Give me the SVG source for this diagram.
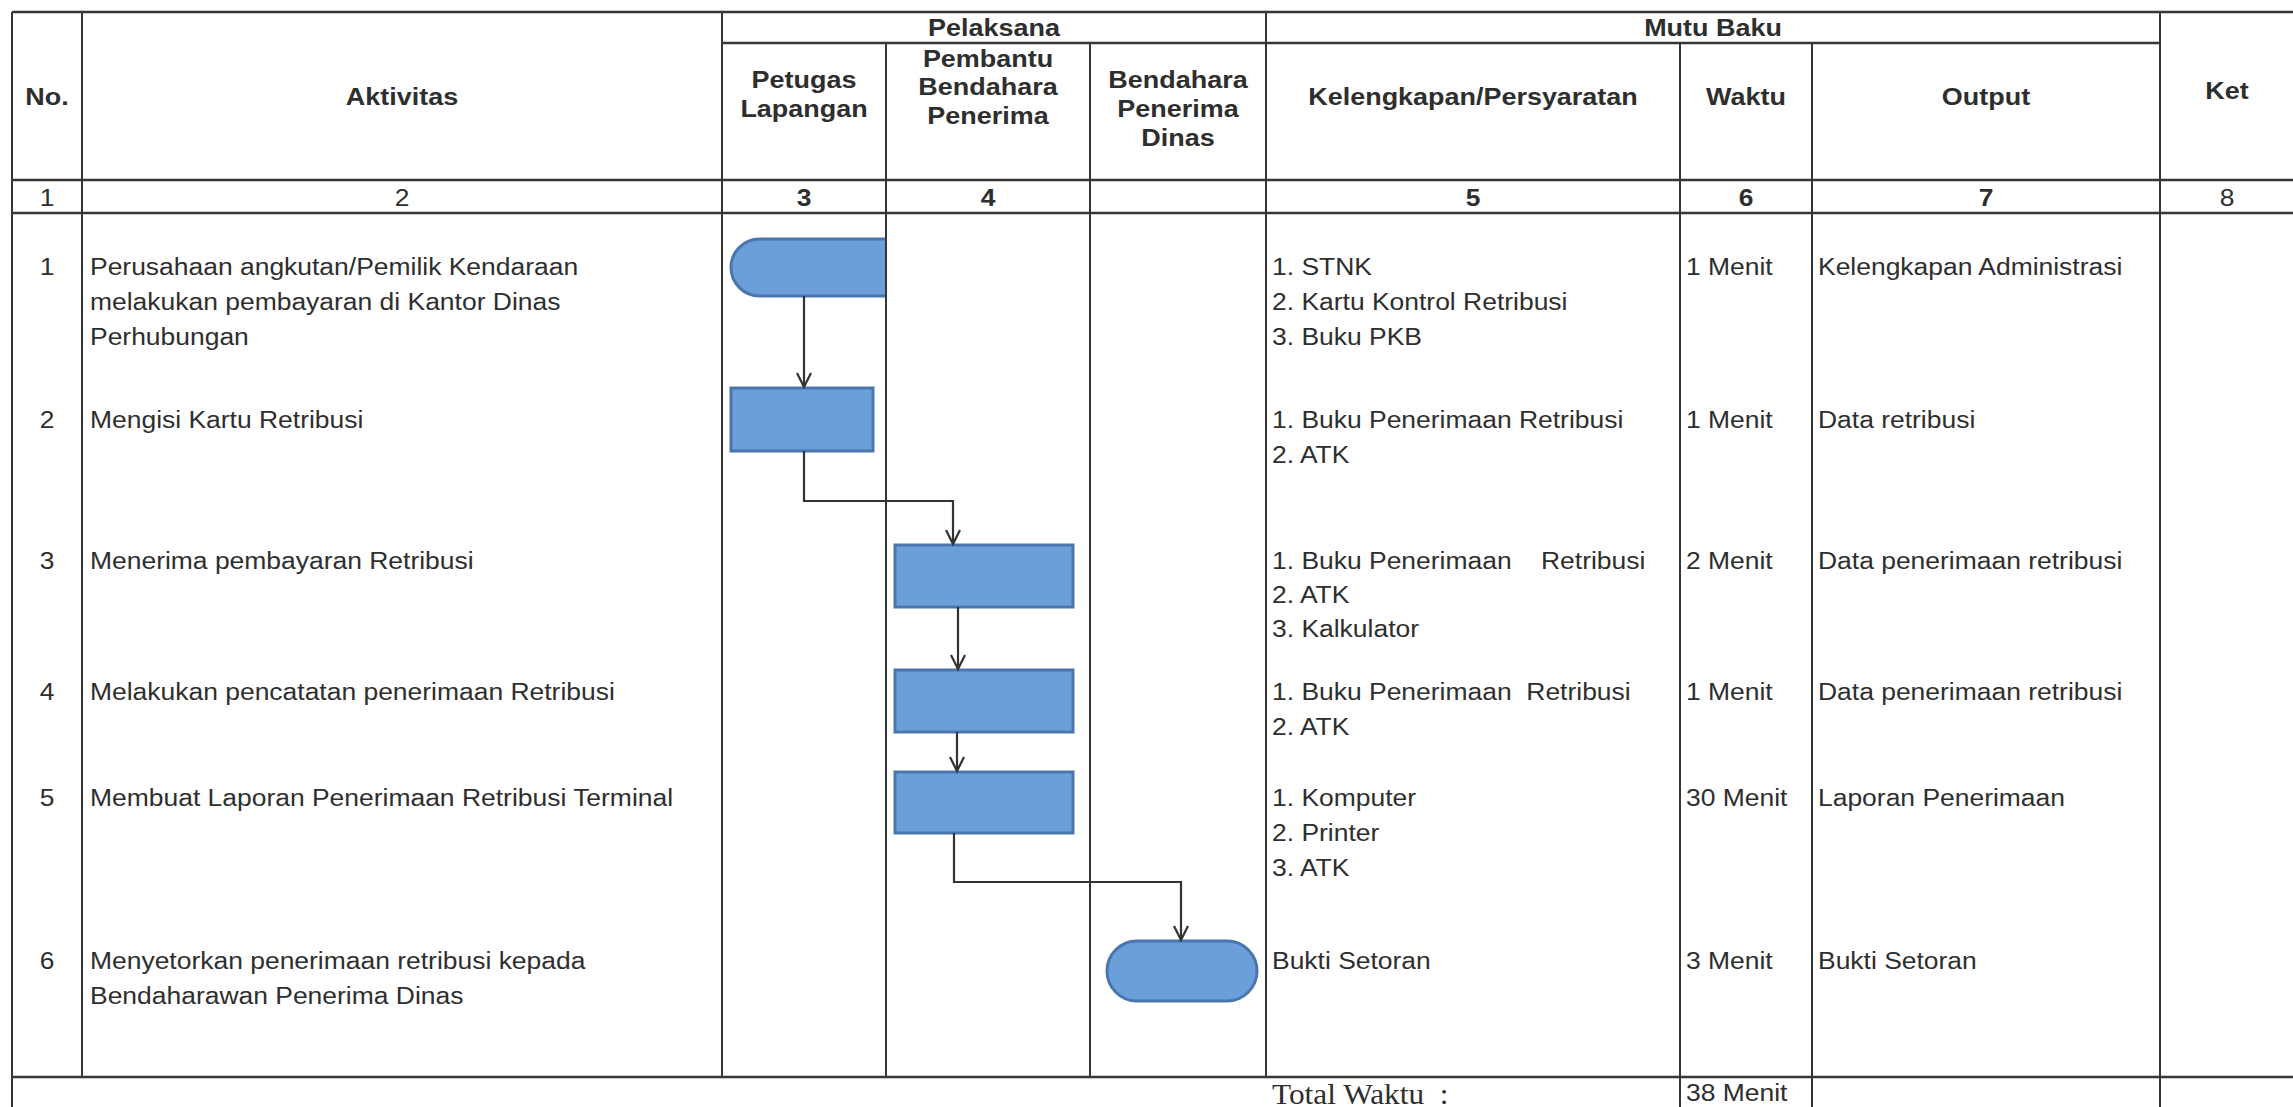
<svg xmlns="http://www.w3.org/2000/svg" width="2293" height="1107" viewBox="0 0 2293 1107">
  <style>
    .grid line { stroke: #363636; }
    .h { stroke-width: 2.6; }
    .v { stroke-width: 2; }
    text { font-family: "Liberation Sans", Arial, sans-serif; fill: #2e2e2e; }
    .hd { font-size: 24.5px; font-weight: bold; text-anchor: middle; }
    .num { font-size: 24px; text-anchor: middle; }
    .numb { font-size: 24px; font-weight: bold; text-anchor: middle; }
    .tx { font-size: 24.5px; }
    .serif { font-family: "Liberation Serif", "Times New Roman", serif; font-size: 29px; }
    .shape { fill: #6a9fd9; stroke: #4a76ad; stroke-width: 3; }
    .conn path { fill: none; stroke: #333333; stroke-width: 2.2; }
  </style>
  <defs>
    <marker id="arrow" markerUnits="userSpaceOnUse" markerWidth="20" markerHeight="20" refX="15" refY="8" orient="auto">
      <path d="M1,1 L15,8 L1,15" fill="none" stroke="#333333" stroke-width="2.2"/>
    </marker>
    <clipPath id="lane-petugas">
      <rect x="722" y="200" width="163" height="150"/>
    </clipPath>
  </defs>

  <rect x="0" y="0" width="2293" height="1107" fill="#ffffff"/>

  <!-- table grid -->
  <g id="grid" class="grid">
    <line class="h" x1="12" y1="12" x2="2293" y2="12"/>
    <line class="h" x1="722" y1="43" x2="2160" y2="43"/>
    <line class="h" x1="12" y1="180" x2="2293" y2="180"/>
    <line class="h" x1="12" y1="213" x2="2293" y2="213"/>
    <line class="h" x1="12" y1="1077" x2="2293" y2="1077"/>
    <line class="v" x1="12" y1="12" x2="12" y2="1107"/>
    <line class="v" x1="82" y1="12" x2="82" y2="1077"/>
    <line class="v" x1="722" y1="12" x2="722" y2="1077"/>
    <line class="v" x1="886" y1="43" x2="886" y2="1077"/>
    <line class="v" x1="1090" y1="43" x2="1090" y2="1077"/>
    <line class="v" x1="1266" y1="12" x2="1266" y2="1077"/>
    <line class="v" x1="1680" y1="43" x2="1680" y2="1107"/>
    <line class="v" x1="1812" y1="43" x2="1812" y2="1107"/>
    <line class="v" x1="2160" y1="12" x2="2160" y2="1107"/>
  </g>

  <!-- column headers -->
  <g id="headers">
    <text class="hd" transform="translate(994 36) scale(1.1 1)">Pelaksana</text>
    <text class="hd" transform="translate(1713 36) scale(1.1 1)">Mutu Baku</text>
    <text class="hd" transform="translate(47 105) scale(1.1 1)">No.</text>
    <text class="hd" transform="translate(402 105) scale(1.1 1)">Aktivitas</text>
    <text class="hd" transform="translate(804 88) scale(1.1 1)"><tspan x="0">Petugas</tspan><tspan x="0" dy="29">Lapangan</tspan></text>
    <text class="hd" transform="translate(988 67) scale(1.1 1)"><tspan x="0">Pembantu</tspan><tspan x="0" dy="28.5">Bendahara</tspan><tspan x="0" dy="28.5">Penerima</tspan></text>
    <text class="hd" transform="translate(1178 88) scale(1.1 1)"><tspan x="0">Bendahara</tspan><tspan x="0" dy="29">Penerima</tspan><tspan x="0" dy="29">Dinas</tspan></text>
    <text class="hd" transform="translate(1473 105) scale(1.1 1)">Kelengkapan/Persyaratan</text>
    <text class="hd" transform="translate(1746 105) scale(1.1 1)">Waktu</text>
    <text class="hd" transform="translate(1986 105) scale(1.1 1)">Output</text>
    <text class="hd" transform="translate(2227 99) scale(1.1 1)">Ket</text>
  </g>

  <!-- column numbers -->
  <g id="column-numbers">
    <text class="num" transform="translate(47 206) scale(1.1 1)">1</text>
    <text class="num" transform="translate(402 206) scale(1.1 1)">2</text>
    <text class="numb" transform="translate(804 206) scale(1.1 1)">3</text>
    <text class="numb" transform="translate(988 206) scale(1.1 1)">4</text>
    <text class="numb" transform="translate(1473 206) scale(1.1 1)">5</text>
    <text class="numb" transform="translate(1746 206) scale(1.1 1)">6</text>
    <text class="numb" transform="translate(1986 206) scale(1.1 1)">7</text>
    <text class="num" transform="translate(2227 206) scale(1.1 1)">8</text>
  </g>

  <!-- activity rows -->
  <g id="row-1">
    <text class="num" transform="translate(47 275) scale(1.1 1)">1</text>
    <text class="tx" transform="translate(90 275) scale(1.08 1)"><tspan x="0">Perusahaan angkutan/Pemilik Kendaraan</tspan><tspan x="0" dy="35">melakukan pembayaran di Kantor Dinas</tspan><tspan x="0" dy="35">Perhubungan</tspan></text>
    <text class="tx" transform="translate(1272 275) scale(1.08 1)"><tspan x="0">1. STNK</tspan><tspan x="0" dy="35">2. Kartu Kontrol Retribusi</tspan><tspan x="0" dy="35">3. Buku PKB</tspan></text>
    <text class="tx" transform="translate(1686 275) scale(1.08 1)">1 Menit</text>
    <text class="tx" transform="translate(1818 275) scale(1.08 1)">Kelengkapan Administrasi</text>
  </g>
  <g id="row-2">
    <text class="num" transform="translate(47 428) scale(1.1 1)">2</text>
    <text class="tx" transform="translate(90 428) scale(1.08 1)">Mengisi Kartu Retribusi</text>
    <text class="tx" transform="translate(1272 428) scale(1.08 1)"><tspan x="0">1. Buku Penerimaan Retribusi</tspan><tspan x="0" dy="35">2. ATK</tspan></text>
    <text class="tx" transform="translate(1686 428) scale(1.08 1)">1 Menit</text>
    <text class="tx" transform="translate(1818 428) scale(1.08 1)">Data retribusi</text>
  </g>
  <g id="row-3">
    <text class="num" transform="translate(47 569) scale(1.1 1)">3</text>
    <text class="tx" transform="translate(90 569) scale(1.08 1)">Menerima pembayaran Retribusi</text>
    <text class="tx" xml:space="preserve" transform="translate(1272 569) scale(1.08 1)"><tspan x="0">1. Buku Penerimaan    Retribusi</tspan><tspan x="0" dy="34">2. ATK</tspan><tspan x="0" dy="34">3. Kalkulator</tspan></text>
    <text class="tx" transform="translate(1686 569) scale(1.08 1)">2 Menit</text>
    <text class="tx" transform="translate(1818 569) scale(1.08 1)">Data penerimaan retribusi</text>
  </g>
  <g id="row-4">
    <text class="num" transform="translate(47 700) scale(1.1 1)">4</text>
    <text class="tx" transform="translate(90 700) scale(1.08 1)">Melakukan pencatatan penerimaan Retribusi</text>
    <text class="tx" xml:space="preserve" transform="translate(1272 700) scale(1.08 1)"><tspan x="0">1. Buku Penerimaan  Retribusi</tspan><tspan x="0" dy="35">2. ATK</tspan></text>
    <text class="tx" transform="translate(1686 700) scale(1.08 1)">1 Menit</text>
    <text class="tx" transform="translate(1818 700) scale(1.08 1)">Data penerimaan retribusi</text>
  </g>
  <g id="row-5">
    <text class="num" transform="translate(47 806) scale(1.1 1)">5</text>
    <text class="tx" transform="translate(90 806) scale(1.08 1)">Membuat Laporan Penerimaan Retribusi Terminal</text>
    <text class="tx" transform="translate(1272 806) scale(1.08 1)"><tspan x="0">1. Komputer</tspan><tspan x="0" dy="35">2. Printer</tspan><tspan x="0" dy="35">3. ATK</tspan></text>
    <text class="tx" transform="translate(1686 806) scale(1.08 1)">30 Menit</text>
    <text class="tx" transform="translate(1818 806) scale(1.08 1)">Laporan Penerimaan</text>
  </g>
  <g id="row-6">
    <text class="num" transform="translate(47 969) scale(1.1 1)">6</text>
    <text class="tx" transform="translate(90 969) scale(1.08 1)"><tspan x="0">Menyetorkan penerimaan retribusi kepada</tspan><tspan x="0" dy="35">Bendaharawan Penerima Dinas</tspan></text>
    <text class="tx" transform="translate(1272 969) scale(1.08 1)">Bukti Setoran</text>
    <text class="tx" transform="translate(1686 969) scale(1.08 1)">3 Menit</text>
    <text class="tx" transform="translate(1818 969) scale(1.08 1)">Bukti Setoran</text>
  </g>
  <g id="total-row">
    <text class="serif" xml:space="preserve" transform="translate(1272 1104) scale(1.08 1)">Total Waktu  :</text>
    <text class="tx" transform="translate(1686 1101) scale(1.08 1)">38 Menit</text>
  </g>

  <!-- flow nodes -->
  <g id="node-start">
    <rect class="shape" x="731" y="239" width="182" height="57" rx="28.5" clip-path="url(#lane-petugas)"/>
  </g>
  <g id="node-isi-kartu">
    <rect class="shape" x="731" y="388" width="142" height="63"/>
  </g>
  <g id="node-terima-bayar">
    <rect class="shape" x="895" y="545" width="178" height="62"/>
  </g>
  <g id="node-pencatatan">
    <rect class="shape" x="895" y="670" width="178" height="62"/>
  </g>
  <g id="node-laporan">
    <rect class="shape" x="895" y="772" width="178" height="61"/>
  </g>
  <g id="node-setor">
    <rect class="shape" x="1107" y="941" width="150" height="60" rx="30"/>
  </g>

  <!-- connectors -->
  <g id="connectors" class="conn">
    <path d="M804 296 V387" marker-end="url(#arrow)"/>
    <path d="M804 451 V501 H953 V544" marker-end="url(#arrow)"/>
    <path d="M958 607 V669" marker-end="url(#arrow)"/>
    <path d="M957 732 V771" marker-end="url(#arrow)"/>
    <path d="M954 833 V882 H1181 V940" marker-end="url(#arrow)"/>
  </g>
</svg>
